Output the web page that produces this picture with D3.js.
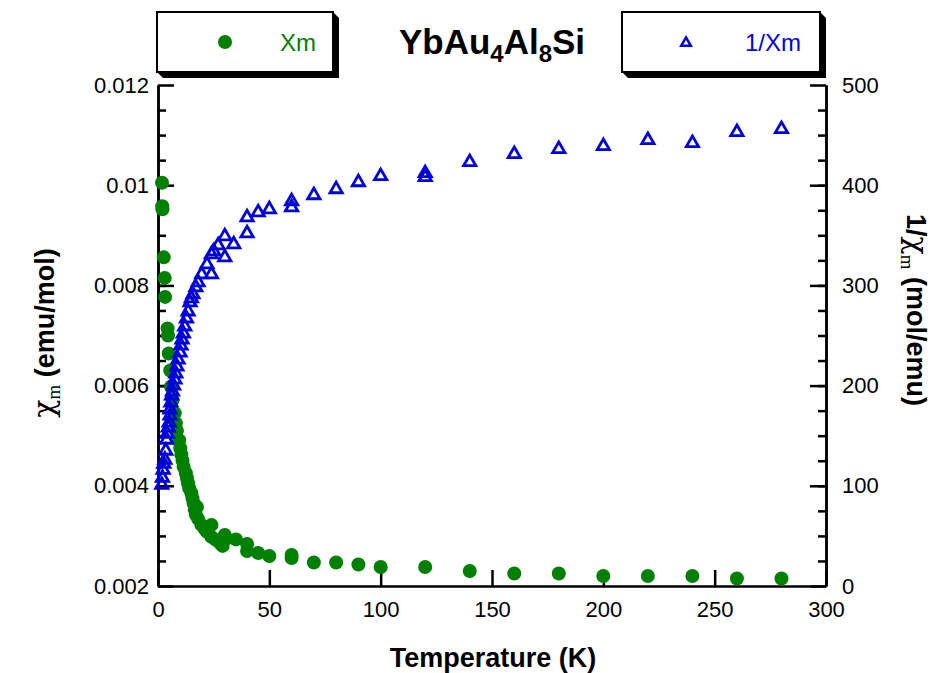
<!DOCTYPE html>
<html>
<head>
<meta charset="utf-8">
<script src="https://cdn.jsdelivr.net/npm/d3@7"></script>
<style>
  body { margin: 0; background: #fff; }
  text { font-family: "Liberation Sans", Arial, sans-serif; }
</style>
</head>
<body>
<div id="chart"></div>
<script>
// susceptibility data
// chi_m (emu/mol) vs temperature (K)
const chiT = [1.8,1.9,2.0,2.6,3.0,3.2,4.3,4.5,4.8,5.5,5.8,6.5,7.5,8.0,8.5,9.5,10,10.5,11,11.5,12.5,13,13.5,14,15,15.5,16,17.5,16.5,17,18,19.5,21,22,24,24,26,28,29,30,30,35,40,40,45,50,60,60,70,80,90,100,120,140,160,180,200,220,240,260,280]
const chiVal = [0.01005,0.00958,0.00952,0.00856,0.00815,0.00777,0.00714,0.00700,0.00664,0.0063,0.00598,0.00571,0.00545,0.00525,0.0051,0.00491,0.00475,0.00462,0.0045,0.00438,0.00425,0.00415,0.00405,0.00395,0.00385,0.00375,0.00365,0.00358,0.00352,0.00342,0.00334,0.00322,0.00314,0.00308,0.00322,0.00298,0.00292,0.00285,0.0028,0.00302,0.00292,0.00293,0.00284,0.0027,0.00266,0.0026,0.00262,0.00256,0.00247,0.00247,0.00243,0.00238,0.00238,0.0023,0.00225,0.00225,0.0022,0.0022,0.0022,0.00215,0.00215]

// 1/chi_m (mol/emu) vs temperature (K)
const invT = [1.7,2.0,2.3,2.6,3.1,3.5,3.9,4.2,4.6,5.0,5.4,5.4,5.8,6.1,6.5,7.0,7.6,8.0,8.5,9.0,9.9,10.3,10.8,11.4,12,12.8,13.5,14.4,15,15.7,17,18,19.6,24,22,24,25,27,30,30,34,40,40,45,50,60,60,70,80,90,100,120,120,140,160,180,200,220,240,260,280]
const invVal = [101,108,116,122,126,135,146,152,158,163,170,176,183,190,194,200,206,212,219,226,233,240,246,252,259,267,274,283,287,291,298,303,311,311,321,331,334,340,328,349,341,352,368,373,376,378,384,390,396,403,409,412,408,423,431,436,439,445,442,453,456]

const xTicks = [0,50,100,150,200,250,300]
const leftTicks = [0.002,0.004,0.006,0.008,0.01,0.012]
const rightTicks = [0,100,200,300,400,500]

const W = 949, H = 673
const margin = { top: 85, right: 123, bottom: 87, left: 158 }
const width = W - margin.left - margin.right
const height = H - margin.top - margin.bottom

const svg = d3.select("#chart").append("svg")
    .attr("width", W)
    .attr("height", H)

const g = svg.append("g")
    .attr("transform", "translate(" + margin.left + "," + margin.top + ")")

const x = d3.scaleLinear().domain([0, 300]).range([0, width])
const yL = d3.scaleLinear().domain([0.002, 0.012]).range([height, 0])
const yR = d3.scaleLinear().domain([0, 500]).range([height, 0])

const green = "#008000"
const blue = "#0000dd"

function styleAxis(sel) {
    sel.selectAll("path, line").attr("stroke", "#000").attr("stroke-width", 2.5)
    sel.selectAll("text").attr("fill", "#000")
        .style("font-size", "22px")
        .style("font-family", "'Liberation Sans', Arial, sans-serif")
}

// minor ticks
g.append("g")
    .call(d3.axisLeft(yL).tickValues(d3.range(0.0025, 0.012, 0.0005)).tickSize(-8).tickFormat("").tickSizeOuter(0))
    .call(styleAxis)
g.append("g")
    .attr("transform", "translate(" + width + ",0)")
    .call(d3.axisRight(yR).tickValues(d3.range(25, 500, 25)).tickSize(-8).tickFormat("").tickSizeOuter(0))
    .call(styleAxis)

// major axes
g.append("g")
    .call(d3.axisLeft(yL).tickValues(leftTicks).tickSize(-16).tickPadding(9).tickSizeOuter(0)
        .tickFormat(d => String(+d.toFixed(3))))
    .call(styleAxis)

g.append("g")
    .attr("transform", "translate(" + width + ",0)")
    .call(d3.axisRight(yR).tickValues(rightTicks).tickSize(-16).tickPadding(16).tickSizeOuter(0))
    .call(styleAxis)

g.append("g")
    .attr("transform", "translate(0," + height + ")")
    .call(d3.axisBottom(x).tickValues(xTicks).tickSize(-16).tickPadding(15).tickSizeOuter(0))
    .call(styleAxis)

// chi points
const chiData = chiT.map((t, i) => ({ t: t, v: chiVal[i] }))
const invData = invT.map((t, i) => ({ t: t, v: invVal[i] }))

g.append("g").selectAll("circle")
    .data(chiData)
    .enter().append("circle")
    .attr("cx", d => x(d.t))
    .attr("cy", d => yL(d.v))
    .attr("r", 7)
    .attr("fill", green)

const tri = d3.symbol().type(d3.symbolTriangle).size(65)
g.append("g").selectAll("path")
    .data(invData)
    .enter().append("path")
    .attr("d", tri)
    .attr("transform", d => "translate(" + x(d.t) + "," + yR(d.v) + ")")
    .attr("fill", "none")
    .attr("stroke", blue)
    .attr("stroke-width", 2.8)

// axis titles
svg.append("text")
    .attr("x", 493)
    .attr("y", 667)
    .attr("text-anchor", "middle")
    .style("font-size", "27px")
    .style("font-weight", "bold")
    .text("Temperature (K)")

const lt = svg.append("text")
    .attr("transform", "translate(54,333) rotate(-90)")
    .attr("text-anchor", "middle")
    .style("font-size", "27px")
    .style("font-weight", "bold")
lt.append("tspan").style("font-family", "'DejaVu Serif', serif").style("font-weight", "normal").style("font-size", "30px").text("χ")
lt.append("tspan").attr("dy", 6).style("font-family", "'Liberation Serif', serif").style("font-size", "19px").style("font-weight", "normal").text("m")
lt.append("tspan").attr("dy", -6).text("  (emu/mol)")

const rt = svg.append("text")
    .attr("transform", "translate(907,310) rotate(90)")
    .attr("text-anchor", "middle")
    .style("font-size", "27px")
    .style("font-weight", "bold")
rt.append("tspan").text("1/")
rt.append("tspan").style("font-family", "'DejaVu Serif', serif").style("font-weight", "normal").style("font-size", "30px").text("χ")
rt.append("tspan").attr("dy", 6).style("font-family", "'Liberation Serif', serif").style("font-size", "19px").style("font-weight", "normal").text("m")
rt.append("tspan").attr("dy", -6).text("  (mol/emu)")

// legend boxes with 3d shadow
function legendBox(bx, by, bw, bh) {
    const s = 6
    svg.append("polygon")
        .attr("points", [[bx + bw, by], [bx + bw + s, by + s], [bx + bw + s, by + bh + s], [bx + s, by + bh + s], [bx, by + bh]].join(" "))
        .attr("fill", "#000")
    svg.append("rect")
        .attr("x", bx).attr("y", by).attr("width", bw).attr("height", bh)
        .attr("fill", "#fff").attr("stroke", "#000").attr("stroke-width", 2)
}
legendBox(157, 12, 176, 60)
legendBox(622, 12, 198, 60)

svg.append("circle").attr("cx", 225).attr("cy", 42).attr("r", 7).attr("fill", green)
svg.append("text").attr("x", 280).attr("y", 51).attr("fill", green).style("font-size", "24px").text("Xm")

svg.append("path")
    .attr("d", d3.symbol().type(d3.symbolTriangle).size(40))
    .attr("transform", "translate(686,43)")
    .attr("fill", "none").attr("stroke", blue).attr("stroke-width", 2.5)
svg.append("text").attr("x", 745).attr("y", 51).attr("fill", blue).style("font-size", "24px").text("1/Xm")

// title
const title = svg.append("text")
    .attr("x", 492).attr("y", 54)
    .attr("text-anchor", "middle")
    .style("font-size", "35px")
    .style("font-weight", "bold")
title.append("tspan").text("YbAu")
title.append("tspan").attr("dy", 8).style("font-size", "24px").text("4")
title.append("tspan").attr("dy", -8).text("Al")
title.append("tspan").attr("dy", 8).style("font-size", "24px").text("8")
title.append("tspan").attr("dy", -8).text("Si")
</script>
</body>
</html>
